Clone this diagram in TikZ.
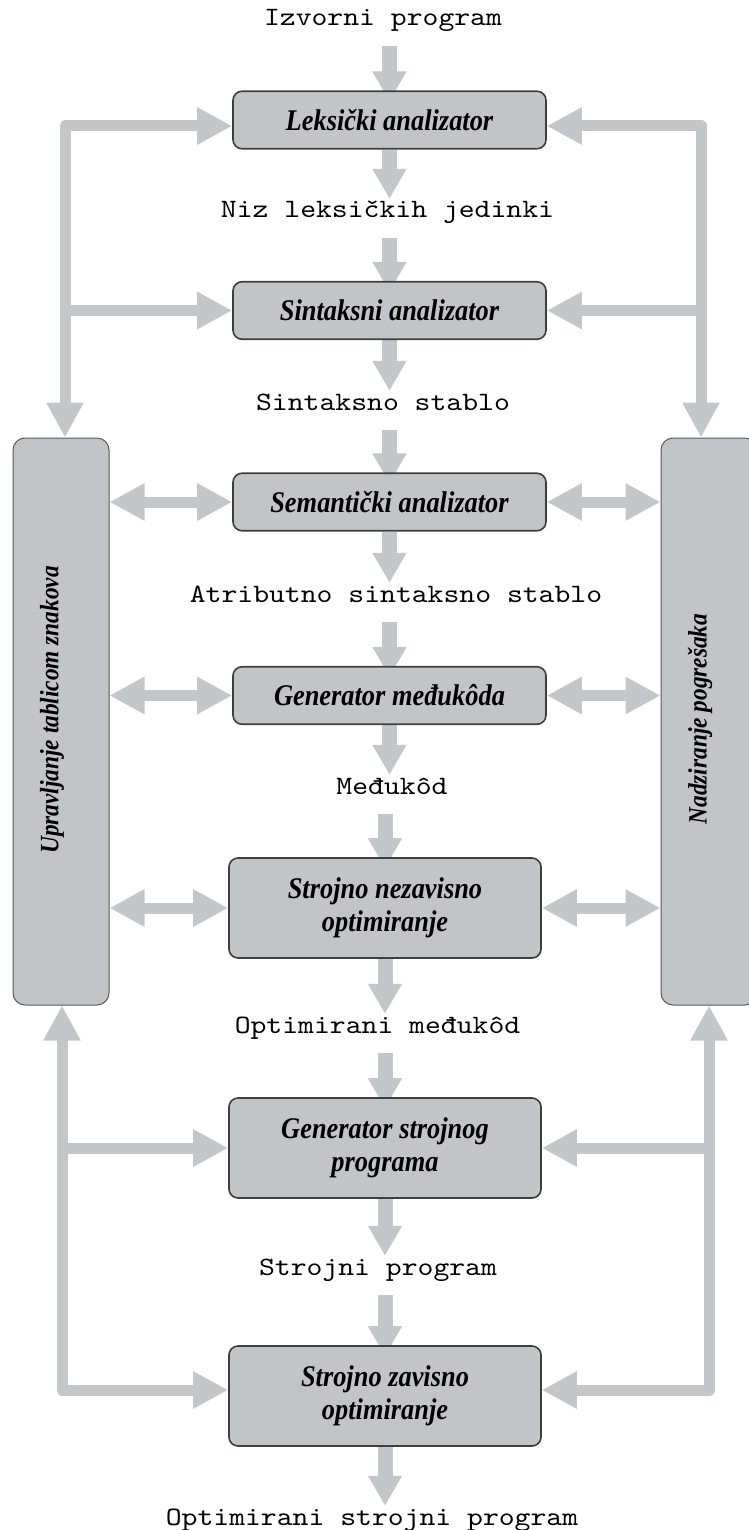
\documentclass[tikz,border=0pt]{standalone}
\usepackage{fontspec}
\setmainfont{Liberation Serif}
\setmonofont{lmmono10-regular}[Extension=.otf, FakeStretch=1.14]
\newfontfamily\stagefont{Liberation Serif}[FakeStretch=0.88]
\usetikzlibrary{arrows.meta}
\pgfdeclarelayer{background}
\pgfsetlayers{background,main}

\definecolor{flowgray}{RGB}{195,199,201}
\definecolor{boxgray}{RGB}{193,197,199}
\definecolor{edgegray}{RGB}{62,62,62}

\tikzset{
  stage/.style={draw=edgegray, line width=1.6pt, fill=boxgray, rounded corners=9pt,
    minimum width=313pt, minimum height=57.5pt, inner sep=0pt, align=center,
    font=\stagefont\fontsize{30pt}{33pt}\selectfont\bfseries\itshape},
  tallstage/.style={stage, minimum width=312pt, minimum height=100pt},
  sidebox/.style={draw=edgegray!85, line width=1pt, fill=boxgray, rounded corners=12pt,
    minimum width=96pt, minimum height=567pt, inner sep=0pt},
  sidetext/.style={rotate=90, inner sep=0pt,
    font=\stagefont\fontsize{26.5pt}{30pt}\selectfont\bfseries\itshape},
  data/.style={anchor=base, inner sep=0pt, text height=19pt, text depth=20pt,
    font=\fontsize{26.5pt}{30pt}\selectfont\ttfamily},
  flow/.style={flowgray, line width=15pt, -{Triangle[width=32pt,length=30pt]}},
  link/.style={flowgray, line width=11pt, line join=round,
    -{Triangle[width=35pt,length=35pt]}},
  bilink/.style={flowgray, line width=11pt, line join=round,
    {Triangle[width=35pt,length=35pt]}-{Triangle[width=35pt,length=35pt]}},
}

\begin{document}
\begin{tikzpicture}[x=1pt,y=-1pt]
\useasboundingbox (0,0) rectangle (748,1530);

% compiler phases
\node[stage] (lex)  at (389.5,120)   {Leksički analizator};
\node[stage] (sin)  at (389.5,310.5) {Sintaksni analizator};
\node[stage] (sem)  at (389.5,502)   {Semantički analizator};
\node[stage] (genm) at (389.5,695.5) {Generator međukôda};
\node[tallstage] (sno)  at (385,908)  {Strojno nezavisno\\optimiranje};
\node[tallstage] (gens) at (385,1148) {Generator strojnog\\programa};
\node[tallstage] (szo)  at (385,1396) {Strojno zavisno\\optimiranje};

% intermediate representations
\node[data] (izv)  at (383,26)     {Izvorni program};
\node[data] (niz)  at (387.5,218)  {Niz leksičkih jedinki};
\node[data] (sst)  at (383,410)    {Sintaksno stablo};
\node[data] (ast)  at (396,602)    {Atributno sintaksno stablo};
\node[data] (med)  at (392,794)    {Međukôd};
\node[data] (omed) at (377.5,1033) {Optimirani međukôd};
\node[data] (spr)  at (378,1275)   {Strojni program};
\node[data] (ospr) at (372,1525)   {Optimirani strojni program};

% side services
\node[sidebox] (upr) at (61,721.5) {};
\node[sidebox] (nad) at (709,721.5) {};
\node[sidetext] (uprt) at (52,710) {Upravljanje tablicom znakova};
\node[sidetext] (nadt) at (700,719) {Nadziranje pogrešaka};

\begin{pgfonlayer}{background}
  % main pipeline
  \draw[flow, shorten >=-11pt] (izv.south -| lex.north) -- (lex.north);
  \draw[flow] (lex.south) -- (lex.south |- niz.north);
  \draw[flow, shorten >=-11pt] (niz.south -| sin.north) -- (sin.north);
  \draw[flow] (sin.south) -- (sin.south |- sst.north);
  \draw[flow, shorten >=-11pt] (sst.south -| sem.north) -- (sem.north);
  \draw[flow] (sem.south) -- (sem.south |- ast.north);
  \draw[flow, shorten >=-11pt] (ast.south -| genm.north) -- (genm.north);
  \draw[flow] (genm.south) -- (genm.south |- med.north);
  \draw[flow, shorten >=-11pt] (med.south -| sno.north) -- (sno.north);
  \draw[flow] (sno.south) -- (sno.south |- omed.north);
  \draw[flow, shorten >=-11pt] (omed.south -| gens.north) -- (gens.north);
  \draw[flow] (gens.south) -- (gens.south |- spr.north);
  \draw[flow, shorten >=-11pt] (spr.south -| szo.north) -- (szo.north);
  \draw[flow] (szo.south) -- (szo.south |- ospr.north);

  % symbol table links
  \draw[bilink] ([yshift=-6pt]lex.west) -| ([xshift=4pt]upr.north);
  \draw[link] ([xshift=4pt]upr.north |- sin.west) -- (sin.west);
  \draw[bilink] (upr.east |- sem.west) -- (sem.west);
  \draw[bilink] (upr.east |- genm.west) -- (genm.west);
  \draw[bilink] (upr.east |- sno.west) -- (sno.west);
  \draw[bilink] ([yshift=6pt]szo.west) -| ([xshift=1pt]upr.south);
  \draw[link] ([xshift=1pt]upr.south |- gens.west) -- (gens.west);

  % error handling links
  \draw[bilink] ([yshift=-6pt]lex.east) -| ([xshift=-8pt]nad.north);
  \draw[link] ([xshift=-8pt]nad.north |- sin.east) -- (sin.east);
  \draw[bilink] (sem.east) -- (nad.west |- sem.east);
  \draw[bilink] (genm.east) -- (nad.west |- genm.east);
  \draw[bilink] (sno.east) -- (nad.west |- sno.east);
  \draw[bilink] ([yshift=6pt]szo.east) -| (nad.south);
  \draw[link] (nad.south |- gens.east) -- (gens.east);
\end{pgfonlayer}
\end{tikzpicture}
\end{document}
